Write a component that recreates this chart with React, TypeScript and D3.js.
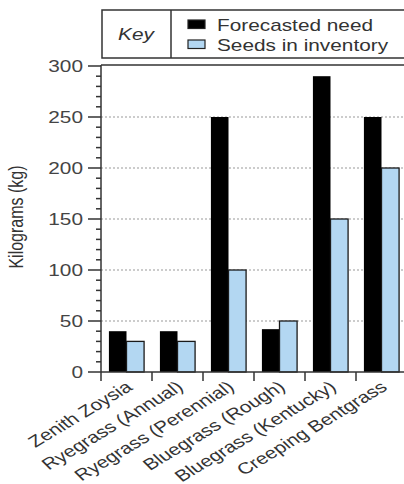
import * as d3 from 'd3'

const categories = [
    'Zenith Zoysia',
    'Ryegrass (Annual)',
    'Ryegrass (Perennial)',
    'Bluegrass (Rough)',
    'Bluegrass (Kentucky)',
    'Creeping Bentgrass'
]
const forecastedNeed = [40, 40, 250, 42, 290, 250]
const seedsInInventory = [30, 30, 100, 50, 150, 200]
const seriesNames = ['Forecasted need', 'Seeds in inventory']
const yTicks = [0, 50, 100, 150, 200, 250, 300]

const colors = ['#000000', '#b3d7f2']
const font = 'Liberation Sans, Arial, sans-serif'
// the picture is stretched sideways, so text is widened too
const SX = 1.3

const App = () => {
    const left = 101
    const top = 66
    const bottom = 372
    const bandW = 51

    const x = d3
        .scaleBand()
        .domain(categories)
        .range([left, left + bandW * categories.length])
        .padding(0)

    const y = d3.scaleLinear().domain([0, 300]).range([bottom, top])

    const inner = d3
        .scaleBand()
        .domain(['0', '1'])
        .range([0, x.bandwidth()])
        .paddingInner(0)
        .paddingOuter(0.45)

    const minorTicks = d3.range(0, 301, 10).filter(v => v % 50 !== 0)

    return (
        <svg width={404} height={484} style={{ position: 'absolute', left: 0, top: 0 }}>
            <rect width={404} height={484} fill="#fff" />

            {/* grid lines */}
            {yTicks.filter(t => t > 0 && t < 300).map(t => (
                <line key={'g' + t} x1={left} x2={420} y1={y(t)} y2={y(t)}
                    stroke="#999" strokeDasharray="2,2" strokeWidth={1} />
            ))}

            {/* bars */}
            {categories.map((c, i) => {
                const bx = x(c) as number
                return (
                    <g key={c}>
                        <rect x={bx + (inner('0') as number)} y={y(forecastedNeed[i])}
                            width={inner.bandwidth()} height={bottom - y(forecastedNeed[i])}
                            fill={colors[0]} />
                        <rect x={bx + (inner('1') as number)} y={y(seedsInInventory[i])}
                            width={inner.bandwidth()} height={bottom - y(seedsInInventory[i])}
                            fill={colors[1]} stroke="#1a1a1a" strokeWidth={1.3} />
                    </g>
                )
            })}

            {/* frame */}
            <line x1={left} x2={420} y1={top - 1} y2={top - 1} stroke="#333" strokeWidth={1.5} />
            <line x1={left} x2={420} y1={bottom} y2={bottom} stroke="#333" strokeWidth={1.5} />
            <line x1={left} x2={left} y1={top - 1} y2={bottom + 9} stroke="#333" strokeWidth={1.5} />

            {/* y ticks */}
            {yTicks.map(t => (
                <g key={'t' + t}>
                    <line x1={left - 13} x2={left} y1={y(t)} y2={y(t)} stroke="#333" strokeWidth={1.5} />
                    <text transform={`translate(83,${y(t) + 6}) scale(${SX},1)`} textAnchor="end"
                        fontFamily={font} fontSize={16} fill="#444">{t}</text>
                </g>
            ))}
            {minorTicks.map(t => (
                <line key={'m' + t} x1={left - 5} x2={left} y1={y(t)} y2={y(t)} stroke="#333" strokeWidth={1.5} />
            ))}
            <text transform={`translate(23,217) scale(${SX},1) rotate(-90)`} textAnchor="middle"
                fontFamily={font} fontSize={16} fill="#333">
                Kilograms (kg)
            </text>

            {/* x ticks and labels */}
            {categories.map((c, i) => {
                const bx = x(c) as number
                const cx = bx + x.bandwidth() / 2
                return (
                    <g key={'x' + c}>
                        {i > 0 && <line x1={bx} x2={bx} y1={bottom} y2={bottom + 9} stroke="#333" strokeWidth={1.5} />}
                        <text transform={`translate(${cx + 7},${bottom + 17}) scale(${SX},1) rotate(-38)`} textAnchor="end"
                            fontFamily={font} fontSize={16} fill="#333">{c}</text>
                    </g>
                )
            })}

            {/* legend */}
            <rect x={102} y={10} width={330} height={48} fill="#fff" stroke="#333" strokeWidth={1.5} />
            <line x1={171} x2={171} y1={10} y2={58} stroke="#333" strokeWidth={1.5} />
            <text transform={`translate(136,40) scale(${SX},1)`} textAnchor="middle" fontFamily={font}
                fontSize={16} fontStyle="italic" fill="#333">Key</text>
            {seriesNames.map((s, i) => (
                <g key={s}>
                    <rect x={188} y={20 + i * 20} width={17} height={8.5} fill={colors[i]} stroke="#222" strokeWidth={1.2} />
                    <text transform={`translate(217,${31 + i * 19.5}) scale(${SX},1)`} fontFamily={font}
                        fontSize={16} fill="#333">{s}</text>
                </g>
            ))}
        </svg>
    )
}

export default App
